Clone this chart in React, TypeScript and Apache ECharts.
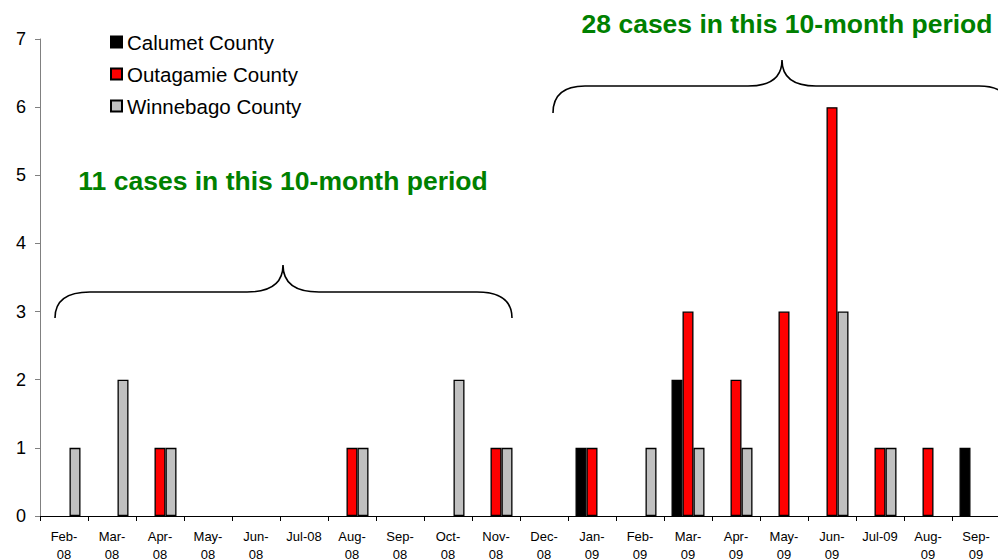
import React, { useEffect, useRef } from "react";
import * as echarts from "echarts";

const months = [
  "Feb-\n08", "Mar-\n08", "Apr-\n08", "May-\n08", "Jun-\n08", "Jul-08", "Aug-\n08", "Sep-\n08", "Oct-\n08", "Nov-\n08",
  "Dec-\n08", "Jan-\n09", "Feb-\n09", "Mar-\n09", "Apr-\n09", "May-\n09", "Jun-\n09", "Jul-09", "Aug-\n09", "Sep-\n09",
];
const calumet = [0, 0, 0, 0, 0, 0, 0, 0, 0, 0, 0, 1, 0, 2, 0, 0, 0, 0, 0, 1];
const outagamie = [0, 0, 1, 0, 0, 0, 1, 0, 0, 1, 0, 1, 0, 3, 2, 3, 6, 1, 1, 0];
const winnebago = [1, 2, 1, 0, 0, 0, 1, 0, 2, 1, 0, 0, 1, 1, 1, 0, 3, 1, 0, 0];
const yTicks = [0, 1, 2, 3, 4, 5, 6, 7];
const note1 = "11 cases in this 10-month period";
const note2 = "28 cases in this 10-month period";

const FONT = "'Liberation Sans', Arial, sans-serif";

function bracePath(x1: number, x2: number, tipX: number, yEnd: number, yMid: number, yTip: number, r: number, rt: number) {
  return (
    `M${x1},${yEnd} Q${x1},${yMid} ${x1 + r},${yMid} L${tipX - rt},${yMid} ` +
    `Q${tipX},${yMid} ${tipX},${yTip} Q${tipX},${yMid} ${tipX + rt},${yMid} ` +
    `L${x2 - r},${yMid} Q${x2},${yMid} ${x2},${yEnd}`
  );
}

let registered = false;
function registerBraces() {
  if (registered) return;
  registered = true;
  echarts.graphic.registerShape(
    "braceLeft",
    echarts.graphic.extendPath(bracePath(55, 512, 283, 318, 292, 265, 35, 36), {}) as any
  );
  echarts.graphic.registerShape(
    "braceRight",
    echarts.graphic.extendPath(bracePath(553, 1011, 782, 113, 86, 60, 32, 34), {}) as any
  );
}

const toData = (arr: number[]) => arr.map((v) => (v === 0 ? "-" : v));

export default function App() {
  const ref = useRef<HTMLDivElement>(null);
  useEffect(() => {
    if (!ref.current) return;
    registerBraces();
    const chart = echarts.init(ref.current, null, { renderer: "svg" });
    const border = { borderColor: "#000", borderWidth: 1.3 };
    const barCommon = {
      type: "bar",
      barGap: "0%",
      barWidth: 11,
    };
    chart.setOption({
      animation: false,
      backgroundColor: "#fff",
      textStyle: { fontFamily: FONT },
      grid: { left: 40, right: -2, top: 39, bottom: 44, containLabel: false, outerBoundsMode: "none" },
      legend: {
        orient: "vertical",
        left: 105,
        top: 26,
        itemWidth: 11,
        itemHeight: 11,
        itemGap: 10,
        icon: "rect",
        textStyle: { fontSize: 20.5, color: "#000", fontFamily: FONT, lineHeight: 22 },
        data: ["Calumet County", "Outagamie County", "Winnebago County"],
      },
      xAxis: {
        type: "category",
        data: months,
        axisLine: { lineStyle: { color: "#000", width: 1 } },
        axisTick: { show: true, length: 5, lineStyle: { color: "#000" } },
        axisLabel: { fontSize: 13, color: "#000", lineHeight: 18, margin: 11, fontFamily: FONT, interval: 0 },
      },
      yAxis: {
        type: "value",
        min: yTicks[0],
        max: yTicks[yTicks.length - 1],
        interval: 1,
        splitLine: { show: false },
        axisLine: { show: true, lineStyle: { color: "#808080", width: 1 } },
        axisTick: { show: true, length: 5, lineStyle: { color: "#808080" } },
        axisLabel: { fontSize: 18, color: "#000", margin: 14, fontFamily: FONT },
      },
      series: [
        { ...barCommon, name: "Calumet County", data: toData(calumet), itemStyle: { ...border, color: "#000000" } },
        { ...barCommon, name: "Outagamie County", data: toData(outagamie), itemStyle: { ...border, color: "#FF0000" } },
        { ...barCommon, name: "Winnebago County", data: toData(winnebago), itemStyle: { ...border, color: "#C0C0C0" } },
      ],
      graphic: [
        { type: "braceLeft", silent: true, style: { fill: null, stroke: "#000", lineWidth: 1.6 } },
        { type: "braceRight", silent: true, style: { fill: null, stroke: "#000", lineWidth: 1.6 } },
        {
          type: "text",
          x: 283,
          y: 181,
          style: { text: note1, fill: "#008000", font: `bold 26.5px ${FONT}`, align: "center", verticalAlign: "middle" },
        },
        {
          type: "text",
          x: 787,
          y: 24,
          style: { text: note2, fill: "#008000", font: `bold 26.5px ${FONT}`, align: "center", verticalAlign: "middle" },
        },
      ],
    });
    return () => chart.dispose();
  }, []);
  return <div ref={ref} style={{ width: 998, height: 560, position: "absolute", left: 0, top: 0 }} />;
}
